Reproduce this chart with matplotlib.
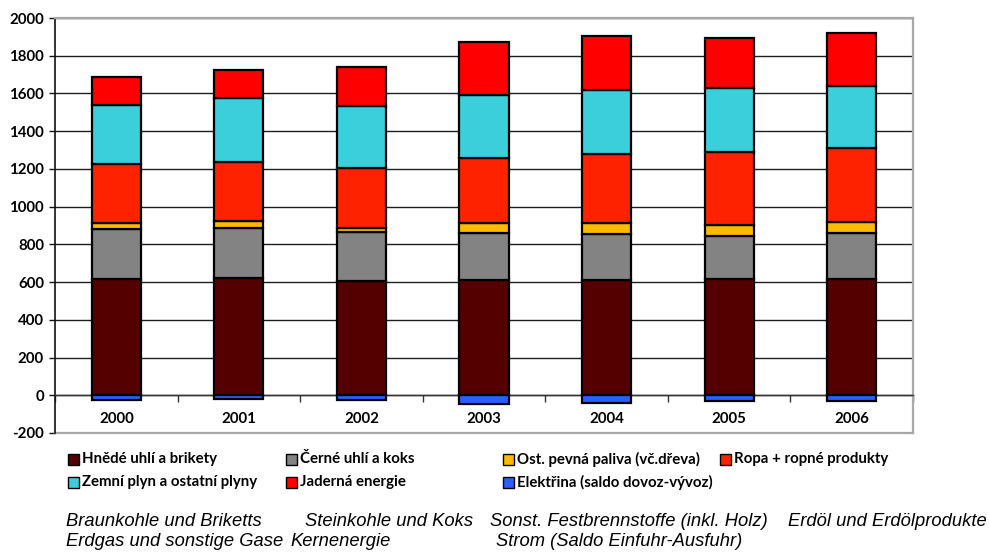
import matplotlib
matplotlib.use("Agg")
import matplotlib.pyplot as plt
from matplotlib.patches import Rectangle
import numpy as np

# Primary energy sources by year (PJ)
years = ["2000", "2001", "2002", "2003", "2004", "2005", "2006"]
hnede_uhli = [614, 620, 605, 611, 609, 614, 614]
cerne_uhli = [266, 268, 259, 248, 244, 232, 246]
ost_paliva = [32, 34, 24, 53, 59, 55, 60]
ropa = [315, 314, 319, 348, 368, 391, 390]
zemni_plyn = [314, 339, 328, 333, 340, 336, 327]
jaderna = [148, 149, 203, 281, 285, 266, 282]
elektrina = [-27, -21, -27, -48, -41, -30, -30]

labels_cz = [
    "Hnědé uhlí a brikety", "Černé uhlí a koks",
    "Ost. pevná paliva (vč.dřeva)", "Ropa + ropné produkty",
    "Zemní plyn a ostatní plyny", "Jaderná energie",
    "Elektřina (saldo dovoz-vývoz)",
]
labels_de = [
    "Braunkohle und Briketts", "Steinkohle und Koks",
    "Sonst. Festbrennstoffe (inkl. Holz)", "Erdöl und Erdölprodukte",
    "Erdgas und sonstige Gase", "Kernenergie",
    "Strom (Saldo Einfuhr-Ausfuhr)",
]
y_ticks = list(range(-200, 2001, 200))

c_brown = "#540000"
c_gray = "#838383"
c_yellow = "#FFBA00"
c_oil = "#FF2200"
c_cyan = "#3BCFDB"
c_nuclear = "#FF0000"
c_blue = "#2A5EFF"

W, H = 989, 552
fig = plt.figure(figsize=(W / 100, H / 100), dpi=100)
ax = fig.add_axes([55 / W, 1 - 433 / H, (913 - 55) / W, (433 - 18) / H])

x = np.arange(len(years))
bw = 0.4
edge = dict(edgecolor="black", linewidth=1.6, zorder=3)

stack = [hnede_uhli, cerne_uhli, ost_paliva, ropa, zemni_plyn, jaderna]
stack_colors = [c_brown, c_gray, c_yellow, c_oil, c_cyan, c_nuclear]
bottom = np.zeros(len(years))
for vals, col in zip(stack, stack_colors):
    ax.bar(x, vals, bw, bottom=bottom, color=col, **edge)
    bottom += np.array(vals)
ax.bar(x, elektrina, bw, bottom=0, color=c_blue, **edge)

ax.set_xlim(-0.5, len(years) - 0.5)
ax.set_ylim(-200, 2000)

# Horizontal gridlines
ax.yaxis.grid(True, color="#1e1e1e", linewidth=1.0)
ax.set_axisbelow(True)

# Frame: dark left axis, grey surround, category axis on the zero line
ax.spines["left"].set_color("#111111")
ax.spines["left"].set_linewidth(1.2)
for s in ("top", "right"):
    ax.spines[s].set_color("#a8a8a8")
    ax.spines[s].set_linewidth(1.6)
ax.spines["bottom"].set_position(("data", 0))
ax.spines["bottom"].set_color("#333333")
ax.spines["bottom"].set_linewidth(1.0)
ax.plot([0, 1], [0, 0], transform=ax.transAxes, color="#a8a8a8",
        linewidth=1.6, clip_on=False, zorder=1)

tick_font = dict(family=["Lato", "DejaVu Sans"], weight="bold", size=10.8)
ax.set_yticks(y_ticks)
ax.set_yticklabels([str(v) for v in y_ticks], **tick_font)
ax.tick_params(axis="y", length=4, width=1, color="#111111", pad=4)

ax.set_xticks(x)
ax.set_xticklabels(years, **tick_font)
ax.set_xticks(np.arange(-0.5, len(years)), minor=True)
ax.tick_params(axis="x", which="major", length=0, pad=12)
ax.tick_params(axis="x", which="minor", length=5, width=1, color="#333333")

# Czech legend in two rows
legend_colors = [c_brown, c_gray, c_yellow, c_oil, c_cyan, c_nuclear, c_blue]
col_x = [68, 286, 503, 720]
row_y = [459, 482]
for i, (lab, col) in enumerate(zip(labels_cz, legend_colors)):
    r, c = divmod(i, 4)
    mx, my = col_x[c], row_y[r]
    fig.add_artist(Rectangle((mx / W, 1 - (my + 5.5) / H), 11 / W, 11 / H,
                             transform=fig.transFigure, facecolor=col,
                             edgecolor="black", linewidth=1.0))
    fig.text((mx + 14) / W, 1 - my / H, lab, ha="left", va="center",
             family=["Lato", "DejaVu Sans"], weight="bold", size=10.8)

# German translations below
de_pos = [(66, 521), (305, 521), (490, 521), (788, 521),
          (66, 542), (290, 542), (496, 542)]
for lab, (tx, ty) in zip(labels_de, de_pos):
    fig.text(tx / W, 1 - ty / H, lab, ha="left", va="center",
             family=["Liberation Sans", "DejaVu Sans"], style="italic", size=13.2)

fig.savefig("out.png", dpi=100)
